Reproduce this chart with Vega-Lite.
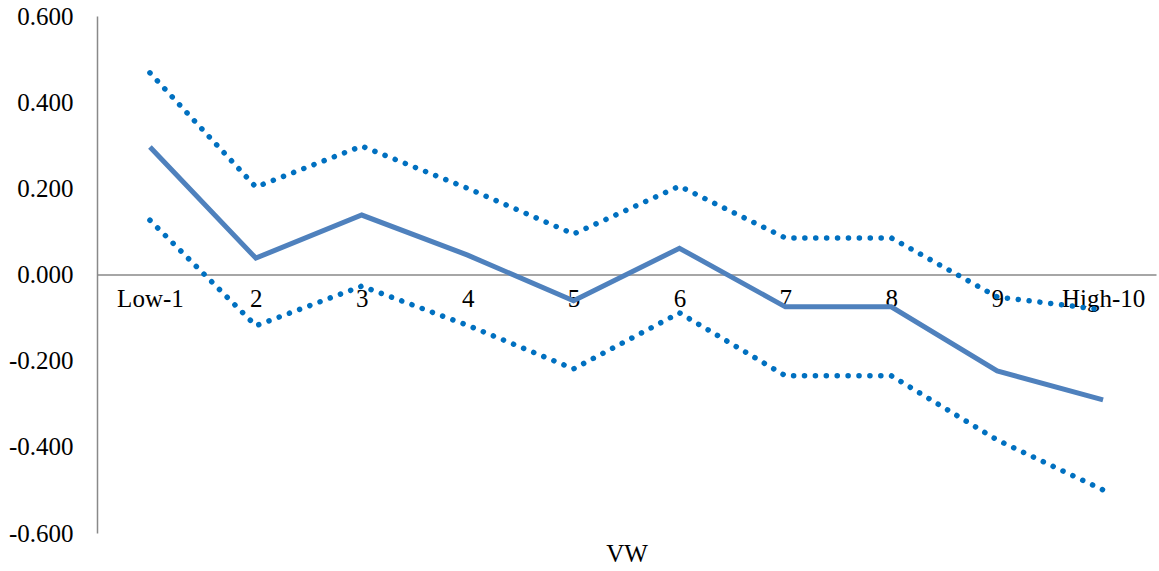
{
  "$schema": "https://vega.github.io/schema/vega-lite/v6.json",
  "width": 1059,
  "height": 517,
  "autosize": "none",
  "padding": {"left": 97, "top": 16, "right": 3, "bottom": 38},
  "background": "white",
  "config": {"view": {"stroke": null}, "font": "Liberation Serif"},
  "data": {
    "values": [
      {"q": "Low-1", "o": 1, "mid": 0.296, "up": 0.468, "lo": 0.126},
      {"q": "2", "o": 2, "mid": 0.038, "up": 0.203, "lo": -0.119},
      {"q": "3", "o": 3, "mid": 0.138, "up": 0.298, "lo": -0.027},
      {"q": "4", "o": 4, "mid": 0.045, "up": 0.2, "lo": -0.118},
      {"q": "5", "o": 5, "mid": -0.061, "up": 0.094, "lo": -0.219},
      {"q": "6", "o": 6, "mid": 0.061, "up": 0.205, "lo": -0.089},
      {"q": "7", "o": 7, "mid": -0.075, "up": 0.085, "lo": -0.235},
      {"q": "8", "o": 8, "mid": -0.075, "up": 0.085, "lo": -0.235},
      {"q": "9", "o": 9, "mid": -0.224, "up": -0.052, "lo": -0.384},
      {"q": "High-10", "o": 10, "mid": -0.291, "up": -0.082, "lo": -0.5}
    ]
  },
  "encoding": {
    "x": {
      "field": "q",
      "type": "ordinal",
      "sort": {"field": "o"},
      "scale": {"type": "point", "padding": 0.5},
      "axis": {
        "title": "VW",
        "titleFont": "Liberation Serif",
        "titleFontSize": 25,
        "titleFontWeight": "normal",
        "titleColor": "black",
        "titleY": 279,
        "titleBaseline": "middle",
        "labelAngle": 0,
        "labelFont": "Liberation Serif",
        "labelFontSize": 25,
        "labelColor": "black",
        "labelPadding": 12,
        "ticks": false,
        "offset": -258.5,
        "domainColor": "#898989",
        "domainWidth": 1.5,
        "grid": false
      }
    }
  },
  "layer": [
    {
      "mark": {"type": "line", "color": "#0070C0", "strokeWidth": 5.5, "strokeDash": [0.1, 10.8], "strokeCap": "round"},
      "encoding": {"y": {"field": "up", "type": "quantitative"}}
    },
    {
      "mark": {"type": "line", "color": "#0070C0", "strokeWidth": 5.5, "strokeDash": [0.1, 10.8], "strokeCap": "round"},
      "encoding": {"y": {"field": "lo", "type": "quantitative"}}
    },
    {
      "mark": {"type": "line", "color": "#4F81BD", "strokeWidth": 5, "strokeJoin": "miter"},
      "encoding": {
        "y": {
          "field": "mid",
          "type": "quantitative",
          "scale": {"domain": [-0.6, 0.6], "nice": false, "zero": false},
          "axis": {
            "title": null,
            "values": [-0.6, -0.4, -0.2, 0, 0.2, 0.4, 0.6],
            "labelExpr": "replace(format(datum.value, '.3f'), '\u2212', '-')",
            "labelFont": "Liberation Serif",
            "labelFontSize": 25,
            "labelColor": "black",
            "labelPadding": 24,
            "ticks": false,
            "grid": false,
            "domainColor": "#898989",
            "domainWidth": 1.5
          }
        }
      }
    }
  ]
}
